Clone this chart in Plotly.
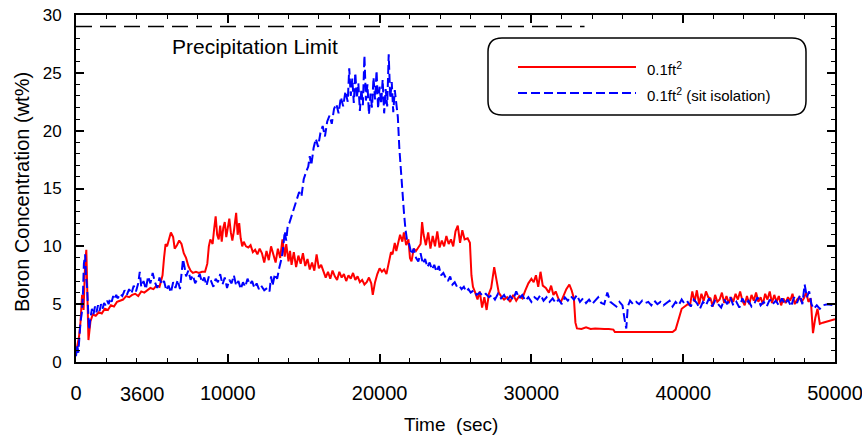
import plotly.graph_objects as go

# ---- data (time in sec, boron concentration in wt%) ----
red_t = [0,100,200,300,400,500,600,680,750,820,950,1100,1300,1500,1700,1900,2100,2300,2500,2700,2900,3100,3300,3500,3700,3900,4100,4300,4500,4700,4900,5100,5300,5500,5700,5800,5900,6000,6100,6250,6400,6500,6650,6800,6950,7100,7250,7400,7550,7700,7900,8100,8300,8500,8650,8750,8850,9000,9100,9200,9300,9400,9500,9600,9700,9800,9900,10000,10100,10200,10300,10400,10550,10650,10750,10850,10950,11050,11200,11350,11500,11650,11800,11950,12100,12250,12400,12550,12700,12850,13000,13150,13300,13450,13600,13750,13850,14000,14100,14200,14350,14500,14650,14800,14950,15100,15250,15400,15550,15700,15850,16000,16150,16300,16450,16600,16750,16900,17050,17200,17350,17500,17650,17800,17950,18100,18250,18400,18550,18700,18850,19000,19150,19300,19450,19550,19700,19850,20000,20150,20300,20450,20600,20750,20850,21000,21100,21250,21350,21500,21600,21750,21900,22000,22100,22250,22400,22550,22700,22800,22900,23050,23200,23350,23500,23650,23800,23950,24100,24250,24400,24550,24700,24850,25000,25150,25300,25450,25600,25800,25950,26050,26150,26300,26450,26600,26750,26900,27050,27200,27350,27550,27700,27850,28000,28200,28400,28600,28800,29000,29200,29400,29600,29800,30000,30150,30300,30450,30600,30750,30950,31150,31300,31450,31600,31800,31950,32100,32300,32500,32650,32800,32900,33000,33300,33600,33900,34200,34500,34800,35100,35400,35500,36500,37500,38500,39300,39500,39700,39900,40100,40300,40450,40600,40750,40900,41050,41200,41350,41500,41650,41800,41950,42100,42250,42400,42550,42700,42850,43000,43150,43300,43450,43600,43750,43900,44050,44200,44350,44500,44650,44800,44950,45100,45250,45400,45550,45700,45850,46000,46150,46300,46450,46600,46750,46900,47050,47200,47350,47500,47650,47800,47950,48100,48250,48400,48550,48700,48850,49000,49200,49500,49800,50000]
red_v = [0.8,1.5,2.2,3.5,5.8,4.5,8.5,9.7,6.0,1.9,3.5,4.1,4.0,4.3,4.2,4.6,4.5,4.9,4.8,5.2,5.3,5.4,5.7,5.6,5.8,5.9,5.7,6.1,6.0,6.2,6.4,6.3,6.6,6.5,7.5,9.0,10.2,10.0,10.6,11.2,10.8,9.8,10.1,10.5,10.2,9.4,9.0,8.3,7.9,7.7,7.8,7.7,7.8,7.8,8.5,10.0,10.6,10.2,11.5,12.6,11.0,10.6,11.8,10.4,11.6,12.1,10.8,11.5,12.4,11.2,10.5,11.3,12.9,11.0,12.0,10.7,10.0,10.4,10.0,9.9,10.1,9.5,9.7,9.3,9.8,9.4,8.6,9.6,8.8,10.0,9.3,8.6,9.8,9.0,10.6,9.1,10.2,8.7,9.6,8.4,9.5,8.2,9.2,8.5,9.4,8.3,8.9,8.0,8.6,7.9,9.3,8.1,8.4,7.9,7.3,7.8,7.2,7.9,7.4,7.1,7.8,7.3,7.6,7.0,7.5,7.2,7.7,7.1,7.4,6.9,7.1,6.7,6.9,7.3,6.8,5.8,6.9,7.6,8.1,7.8,8.0,7.6,8.7,9.5,9.3,10.3,9.6,10.5,11.0,10.4,11.2,10.1,10.6,9.0,8.7,9.8,9.6,9.9,10.2,12.1,11.0,10.1,11.2,9.8,10.9,10.0,11.3,9.9,10.5,10.0,10.9,10.2,10.6,10.0,11.3,11.8,10.3,11.4,10.6,10.7,10.3,7.5,6.5,6.0,5.4,6.1,4.7,5.6,4.5,5.9,6.4,8.2,7.0,6.0,5.7,5.4,5.6,5.2,5.8,5.3,5.7,5.5,6.2,6.8,7.2,6.9,7.5,6.5,7.8,6.6,6.4,6.0,6.6,5.8,6.1,5.4,5.2,5.7,6.3,6.7,6.2,5.5,3.4,2.9,2.85,3.0,2.85,2.9,2.85,2.85,2.85,2.8,2.6,2.6,2.6,2.6,2.6,2.8,3.6,4.6,4.8,5.0,4.9,6.1,5.2,6.2,5.0,5.9,5.3,6.1,5.6,5.5,4.8,5.8,5.2,5.4,6.0,5.1,5.7,5.1,5.6,5.2,5.9,5.4,6.1,5.3,4.9,5.7,5.0,5.8,5.3,6.0,5.2,5.6,5.0,5.9,5.4,6.1,5.1,5.8,5.2,5.7,4.9,5.5,5.1,5.6,5.3,5.9,5.0,5.4,5.6,5.2,5.5,6.0,5.2,5.5,2.5,3.8,4.6,3.3,3.4,3.5,3.6,3.7]

blue_t = [0,80,150,220,300,380,450,520,600,660,730,800,860,950,1050,1150,1250,1350,1450,1550,1650,1750,1850,1950,2050,2150,2250,2350,2450,2550,2650,2750,2900,3050,3200,3350,3500,3650,3800,3950,4100,4200,4300,4450,4600,4750,4900,5050,5200,5350,5500,5650,5800,5950,6100,6250,6400,6550,6700,6850,6950,7050,7150,7250,7400,7550,7700,7850,8000,8150,8300,8450,8600,8750,8900,9050,9200,9350,9500,9650,9800,9950,10100,10250,10400,10550,10700,10850,11000,11150,11300,11450,11600,11750,11900,12050,12200,12400,12600,12750,12850,12950,13100,13250,13400,13550,13650,13750,13850,13950,14050,14200,14400,14550,14700,14850,15000,15150,15300,15400,15500,15650,15800,15950,16100,16250,16400,16550,16700,16850,17000,17150,17300,17450,17600,17750,17900,18000,18100,18200,18300,18400,18500,18600,18700,18800,18900,19000,19100,19200,19300,19400,19500,19600,19700,19800,19900,20000,20100,20200,20300,20400,20500,20600,20700,20800,20900,21000,21100,21200,21300,21450,21600,21700,21800,21950,22100,22250,22400,22550,22700,22850,23000,23150,23300,23450,23600,23750,23900,24050,24200,24350,24500,24650,24800,24950,25100,25250,25400,25550,25700,25850,26000,26200,26400,26600,26800,27000,27200,27400,27600,27800,28000,28200,28400,28600,28800,29000,29200,29400,29600,29800,30000,30200,30400,30600,30800,31000,31200,31400,31600,31800,32000,32200,32400,32600,32800,33000,33200,33400,33600,33800,34000,34200,34400,34600,34800,35000,35200,35400,35600,35800,36000,36150,36250,36350,36500,36700,36900,37100,37300,37500,37700,37900,38100,38300,38500,38700,38900,39100,39300,39500,39700,39900,40100,40300,40500,40700,40900,41100,41300,41500,41700,41900,42100,42300,42500,42700,42900,43100,43300,43500,43700,43900,44100,44300,44500,44700,44900,45100,45300,45500,45700,45900,46100,46300,46500,46700,46900,47100,47300,47500,47700,47850,48000,48150,48300,48450,48600,48800,49000,49200,49500,50000]
blue_v = [0.5,1.5,0.8,2.5,3.5,4.2,5.6,8.5,9.3,7.4,6.5,4.5,2.8,3.8,4.6,4.1,4.8,4.3,4.9,4.4,5.0,4.6,5.1,4.9,5.3,5.0,5.5,5.2,5.7,5.4,5.8,5.5,5.9,5.7,6.2,5.8,6.3,5.9,6.6,6.1,6.8,7.8,6.5,7.0,6.3,7.4,6.8,7.7,6.9,6.4,7.3,6.7,7.0,6.2,6.6,6.0,6.9,6.4,7.1,6.3,8.0,8.9,8.2,7.4,7.9,7.1,7.5,6.8,7.2,7.6,6.9,7.3,6.6,7.4,7.0,6.5,7.2,6.9,7.6,6.7,7.3,6.4,7.1,6.8,7.5,6.6,7.0,6.3,6.9,6.5,7.2,6.7,7.0,6.4,6.8,6.3,6.6,6.2,6.4,6.1,7.4,6.6,7.6,7.2,8.2,9.0,9.9,11.3,10.5,11.8,12.0,12.6,13.6,14.2,14.7,14.3,15.8,16.4,16.9,17.8,17.0,18.5,19.3,18.6,19.8,20.4,19.5,20.8,21.3,20.6,21.9,22.3,21.5,22.9,22.1,23.4,22.5,25.4,23.0,24.5,22.4,25.0,22.8,24.1,21.7,23.6,22.2,26.5,22.6,24.0,21.4,23.2,22.0,24.6,22.7,25.2,21.9,23.8,22.3,24.4,21.5,23.6,22.1,26.6,22.8,24.2,21.6,23.5,22.0,21.2,18.5,15.5,13.0,11.5,10.6,10.2,9.3,9.8,9.0,8.7,9.4,8.5,8.9,8.2,8.6,8.0,8.4,7.8,8.3,7.5,7.7,7.3,7.0,7.4,6.7,6.9,6.5,6.6,6.3,6.5,6.1,6.3,6.0,6.2,5.8,6.0,5.7,5.9,5.6,5.8,5.4,5.9,5.5,5.8,5.3,5.7,5.4,6.1,5.5,5.8,5.3,5.6,5.2,5.6,5.4,5.8,5.3,5.6,5.2,5.5,5.1,5.4,5.0,5.6,5.3,5.7,5.4,5.8,5.2,5.5,5.1,5.4,5.0,5.3,5.6,5.1,5.0,6.0,5.2,5.0,4.8,5.2,4.9,3.6,2.9,4.8,5.3,5.0,5.2,5.0,5.3,5.1,5.2,4.9,5.3,5.0,5.2,4.9,5.1,5.3,4.8,5.2,4.9,5.4,5.0,5.2,4.8,5.4,5.1,4.6,5.2,4.9,5.5,4.8,5.3,5.0,4.7,5.4,5.0,5.6,4.9,5.2,4.7,5.5,5.0,5.3,4.8,5.1,5.6,4.9,5.2,4.8,5.4,5.0,5.3,4.9,5.5,5.0,5.4,4.8,5.6,5.1,5.8,5.0,6.7,5.6,6.1,5.0,4.6,4.9,4.6,4.9,5.0,4.9]

limit_t = [0, 33500]
limit_v = [29, 29]

x_ticks = [0, 10000, 20000, 30000, 40000, 50000]
y_ticks = [0, 5, 10, 15, 20, 25, 30]

fig = go.Figure()
fig.add_trace(go.Scatter(x=red_t, y=red_v, mode="lines", name="0.1ft²",
                         line=dict(color="#ff0000", width=2)))
fig.add_trace(go.Scatter(x=blue_t, y=blue_v, mode="lines", name="0.1ft² (sit isolation)",
                         line=dict(color="#0000ff", width=2, dash="9px,4px")))
fig.add_trace(go.Scatter(x=limit_t, y=limit_v, mode="lines", showlegend=False,
                         line=dict(color="black", width=1.5, dash="16px,8px")))

font = "Liberation Sans, Arial, sans-serif"
narrow = "Liberation Sans Narrow, Arial Narrow, Liberation Sans, Arial, sans-serif"

fig.update_layout(
    width=862, height=436,
    margin=dict(l=76, r=27, t=15, b=74, autoexpand=False),
    paper_bgcolor="white", plot_bgcolor="white",
    showlegend=False,
    font=dict(family=font, color="black"),
    xaxis=dict(range=[0, 50000], tickvals=x_ticks, ticktext=[str(v) for v in x_ticks],
               showgrid=False, zeroline=False, showline=True, linecolor="black", linewidth=2,
               mirror="ticks", ticks="inside", ticklen=8, tickwidth=1.5, tickcolor="black",
               minor=dict(dtick=2000, ticks="inside", ticklen=4, tickwidth=1.2, tickcolor="black"),
               tickfont=dict(size=20, family=narrow), ticklabelstandoff=12,
               ticklabeloverflow="allow", automargin=False),
    yaxis=dict(range=[0, 30], tickvals=y_ticks,
               showgrid=False, zeroline=False, showline=True, linecolor="black", linewidth=2,
               mirror="ticks", ticks="inside", ticklen=8, tickwidth=1.5, tickcolor="black",
               minor=dict(dtick=1, ticks="inside", ticklen=4, tickwidth=1.2, tickcolor="black"),
               tickfont=dict(size=17, family=font), ticklabelstandoff=9,
               ticklabeloverflow="allow", automargin=False),
)

def px2x(px):
    return (px - 76) / 759.0

def py2y(py):
    return (362 - py) / 347.0

# rounded legend box
x0, x1 = px2x(488), px2x(806)
y0, y1 = py2y(115), py2y(38)
rx, ry = 14 / 759.0, 14 / 347.0
path = (f"M {x0+rx},{y1} L {x1-rx},{y1} Q {x1},{y1} {x1},{y1-ry} "
        f"L {x1},{y0+ry} Q {x1},{y0} {x1-rx},{y0} L {x0+rx},{y0} "
        f"Q {x0},{y0} {x0},{y0+ry} L {x0},{y1-ry} Q {x0},{y1} {x0+rx},{y1} Z")
fig.add_shape(type="path", path=path, xref="paper", yref="paper",
              line=dict(color="black", width=1.5), fillcolor="rgba(0,0,0,0)")
fig.add_shape(type="line", xref="paper", yref="paper", x0=px2x(518), x1=px2x(636),
              y0=py2y(67), y1=py2y(67), line=dict(color="#ff0000", width=2))
fig.add_shape(type="line", xref="paper", yref="paper", x0=px2x(518), x1=px2x(636),
              y0=py2y(93), y1=py2y(93), line=dict(color="#0000ff", width=2, dash="9px,4px"))
fig.add_annotation(xref="paper", yref="paper", x=px2x(645), y=py2y(68), xanchor="left",
                   yanchor="middle", showarrow=False, text="0.1ft<sup>2</sup>",
                   font=dict(size=15, family=font))
fig.add_annotation(xref="paper", yref="paper", x=px2x(645), y=py2y(94), xanchor="left",
                   yanchor="middle", showarrow=False, text="0.1ft<sup>2</sup> (sit isolation)",
                   font=dict(size=15, family=font))

fig.add_annotation(xref="paper", yref="paper", x=px2x(255), y=py2y(46), xanchor="center",
                   yanchor="middle", showarrow=False, text="Precipitation Limit",
                   font=dict(size=21, family=font))
fig.add_annotation(xref="paper", yref="paper", x=px2x(142), y=py2y(394), xanchor="center",
                   yanchor="middle", showarrow=False, text="3600",
                   font=dict(size=20, family=font))
fig.add_annotation(xref="paper", yref="paper", x=px2x(451), y=py2y(424), xanchor="center",
                   yanchor="middle", showarrow=False, text="Time  (sec)",
                   font=dict(size=19, family=narrow))
fig.add_annotation(xref="paper", yref="paper", x=px2x(22), y=py2y(192), xanchor="center",
                   yanchor="middle", showarrow=False, textangle=-90,
                   text="Boron Concentration (wt%)", font=dict(size=20, family=font))

# remove the browser's default 8px body margin so the figure fills the window exactly
fig.write_html("out.html", config={"displayModeBar": False},
               post_script="document.body.style.margin='0px';")
